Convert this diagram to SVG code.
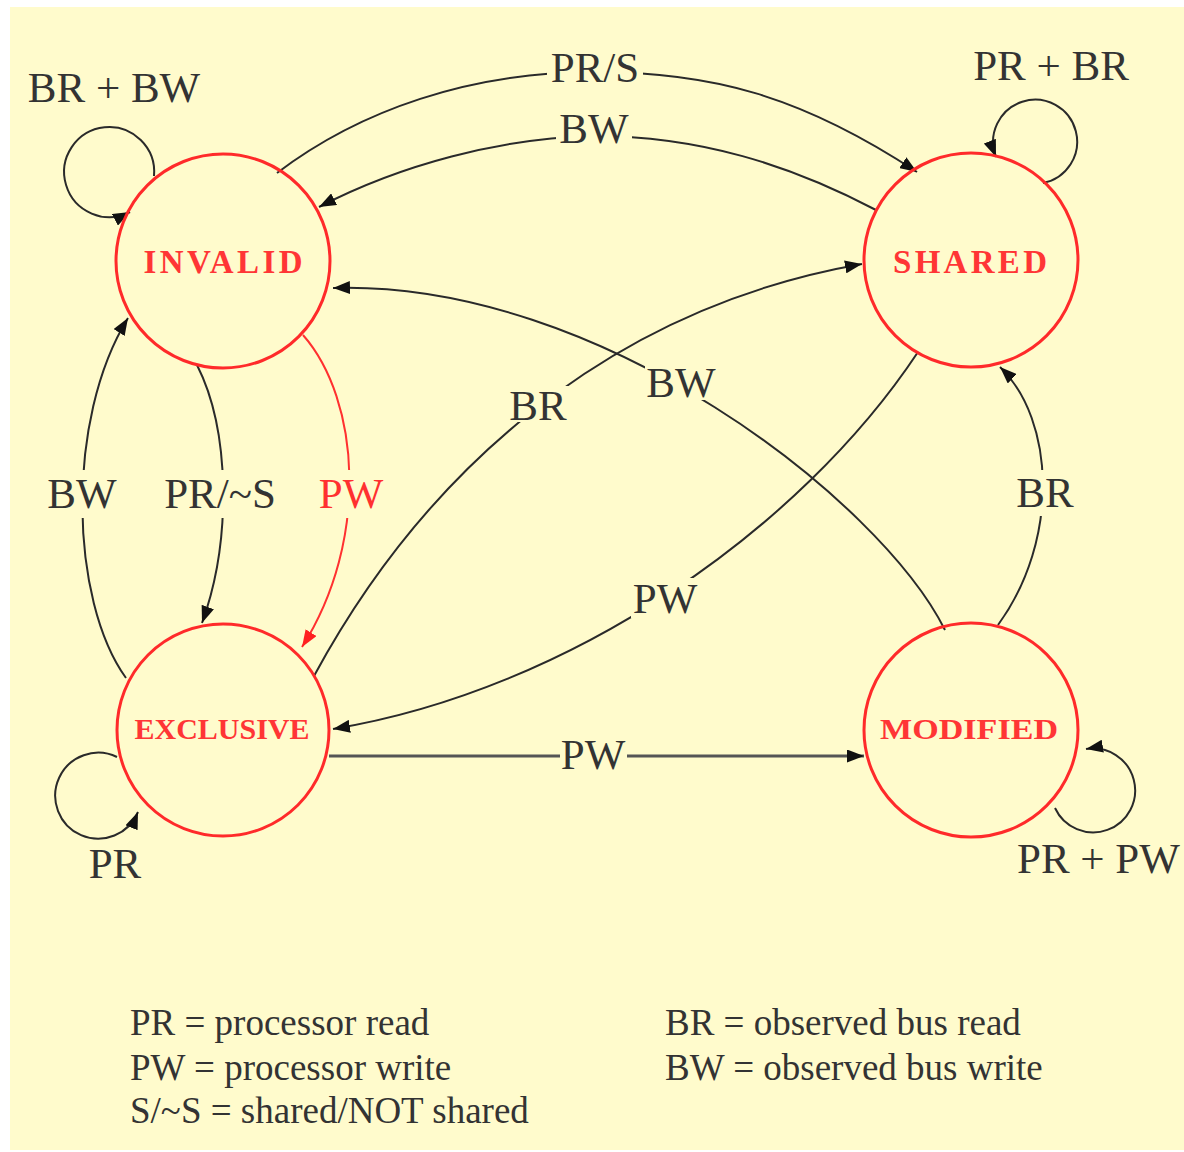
<svg xmlns="http://www.w3.org/2000/svg" width="1184" height="1152" viewBox="0 0 1184 1152">
<style>
.node{fill:none;stroke:#ff2a2a;stroke-width:3}
.nl{font-family:"Liberation Serif","Times New Roman",serif;font-weight:bold;font-size:33px;fill:#ff3535;text-anchor:middle}
.nl2{font-size:30px}
.e{fill:none;stroke:#2a2a2a;stroke-width:2;marker-end:url(#ah)}
.er{fill:none;stroke:#ff3030;stroke-width:2;marker-end:url(#ahr)}
.lb{font-family:"Liberation Serif","Times New Roman",serif;font-size:43px;fill:#333;text-anchor:middle}
.lbr{fill:#ff3030}
.lg{font-family:"Liberation Serif","Times New Roman",serif;font-size:37px;fill:#333}
.gap{fill:#fffbcc}
</style>
<defs>
<marker id="ah" markerWidth="17" markerHeight="13" refX="17" refY="6.5" orient="auto" markerUnits="userSpaceOnUse"><path d="M0,0 L17,6.5 L0,13 z" fill="#111"/></marker>
<marker id="ahr" markerWidth="17" markerHeight="13" refX="17" refY="6.5" orient="auto" markerUnits="userSpaceOnUse"><path d="M0,0 L17,6.5 L0,13 z" fill="#ff2020"/></marker>
</defs>
<rect width="1184" height="1152" fill="#ffffff"/>
<rect x="10" y="7" width="1174" height="1143" fill="#fffbcc"/>

<g id="connectors">
<path class="e" d="M277,173 C360,110 470,72 595,72 C710,72 800,95 917,172"/>
<path class="e" d="M876,210 C790,165 700,136 594,136 C500,138 400,165 319,207"/>
<path class="e" d="M314,676 C420,480 600,310 862,264"/>
<path class="e" d="M945,630 C880,500 600,280 333,288"/>
<path class="e" d="M918,352 C800,530 570,690 333,729"/>
<path class="e" d="M998,625 C1060,540 1055,420 1000,367"/>
<path class="e" d="M197,365 C230,430 232,540 202,623"/>
<path class="er" d="M303,335 C360,400 370,540 302,647"/>
<path class="e" d="M126,678 C70,600 65,420 128,318"/>
<path class="e" d="M329,756 L864,756" style="stroke:#555;stroke-width:3"/>
<path class="e" d="M154,176 A45,45 0 1 0 130,212"/>
<path class="e" d="M1043,183 A42,42 0 1 0 996,157"/>
<path class="e" d="M117,757 A43,43 0 1 0 138,812"/>
<path class="e" d="M1055,808 A42,42 0 1 0 1086,749"/>

<rect class="gap" x="547" y="52" width="96" height="34"/>
<rect class="gap" x="556" y="114" width="76" height="32"/>
<rect class="gap" x="506" y="386" width="64" height="36"/>
<rect class="gap" x="645" y="364" width="72" height="36"/>
<rect class="gap" x="45" y="470" width="75" height="48"/>
<rect class="gap" x="161" y="470" width="120" height="48"/>
<rect class="gap" x="318" y="470" width="68" height="48"/>
<rect class="gap" x="1015" y="470" width="60" height="46"/>
<rect class="gap" x="631" y="578" width="68" height="40"/>
<rect class="gap" x="560" y="738" width="67" height="34"/>

<text class="lb" x="595" y="82">PR/S</text>
<text class="lb" x="594" y="143">BW</text>
<text class="lb" x="538" y="420">BR</text>
<text class="lb" x="681" y="397">BW</text>
<text class="lb" x="82" y="508">BW</text>
<text class="lb" x="220" y="508">PR/~S</text>
<text class="lb lbr" x="351" y="508">PW</text>
<text class="lb" x="1045" y="507">BR</text>
<text class="lb" x="665" y="613">PW</text>
<text class="lb" x="593" y="769">PW</text>
<text class="lb" x="114" y="102">BR + BW</text>
<text class="lb" x="1051" y="80">PR + BR</text>
<text class="lb" x="115" y="878">PR</text>
<text class="lb" x="1017" y="873" style="text-anchor:start">PR + PW</text>
</g>

<g id="invalid">
<circle class="node" cx="223" cy="261" r="107"/>
<text class="nl" x="223" y="273" textLength="159" lengthAdjust="spacing">INVALID</text>
</g>
<g id="shared">
<circle class="node" cx="971" cy="260" r="107"/>
<text class="nl" x="970" y="273" textLength="154" lengthAdjust="spacing">SHARED</text>
</g>
<g id="exclusive">
<circle class="node" cx="223" cy="730" r="106"/>
<text class="nl nl2" x="222" y="739" textLength="175" lengthAdjust="spacingAndGlyphs">EXCLUSIVE</text>
</g>
<g id="modified">
<circle class="node" cx="971" cy="730" r="107"/>
<text class="nl nl2" x="969" y="739" textLength="178" lengthAdjust="spacingAndGlyphs">MODIFIED</text>
</g>

<g id="legend">
<text class="lg" x="130" y="1035">PR = processor read</text>
<text class="lg" x="130" y="1080">PW = processor write</text>
<text class="lg" x="130" y="1123">S/~S = shared/NOT shared</text>
<text class="lg" x="665" y="1035">BR = observed bus read</text>
<text class="lg" x="665" y="1080">BW = observed bus write</text>
</g>
</svg>
